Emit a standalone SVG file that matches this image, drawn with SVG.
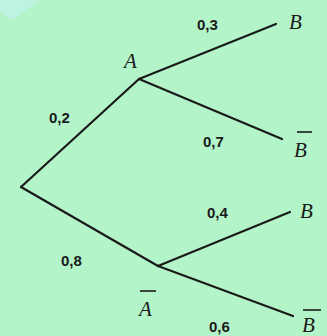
<svg xmlns="http://www.w3.org/2000/svg" width="327" height="336" viewBox="0 0 327 336">
<style>
.e{stroke:#1a1a1a;stroke-width:2.2;fill:none;stroke-linecap:round}
.p{font-family:"Liberation Sans",Arial,sans-serif;font-weight:bold;font-size:15px;fill:#1a1a1a}
.v{font-family:"Liberation Serif","Times New Roman",serif;font-style:italic;font-size:21px;fill:#1a1a1a}
.bar{stroke:#1a1a1a;stroke-width:1.6}
</style>
<rect width="327" height="336" fill="#b3f5c9"/>
<path d="M0 0 H40 L12 20 L0 12 Z" fill="#bdf3e0"/>
<g id="connectors">
<path class="e" d="M21 187 L139 79"/>
<path class="e" d="M21 187 L158 266"/>
<path class="e" d="M139 79 L276 24"/>
<path class="e" d="M139 79 L282 139"/>
<path class="e" d="M158 266 L290 212"/>
<path class="e" d="M158 266 L293 316"/>
</g>
<g id="labels">
<text class="p" x="197" y="30">0,3</text>
<text class="p" x="49" y="123">0,2</text>
<text class="p" x="203" y="147">0,7</text>
<text class="p" x="207" y="218">0,4</text>
<text class="p" x="61" y="266">0,8</text>
<text class="p" x="209" y="332">0,6</text>
</g>
<g id="node-A"><text class="v" x="124" y="68">A</text></g>
<g id="node-B1"><text class="v" x="289" y="29">B</text></g>
<g id="node-Bbar1"><text class="v" x="294" y="157">B</text><line class="bar" x1="297" y1="132" x2="312" y2="132"/></g>
<g id="node-Abar"><text class="v" x="139" y="316">A</text><line class="bar" x1="140" y1="291" x2="156" y2="291"/></g>
<g id="node-B2"><text class="v" x="300" y="218">B</text></g>
<g id="node-Bbar2"><text class="v" x="302" y="332">B</text><line class="bar" x1="303" y1="310" x2="321" y2="310"/></g>
</svg>
